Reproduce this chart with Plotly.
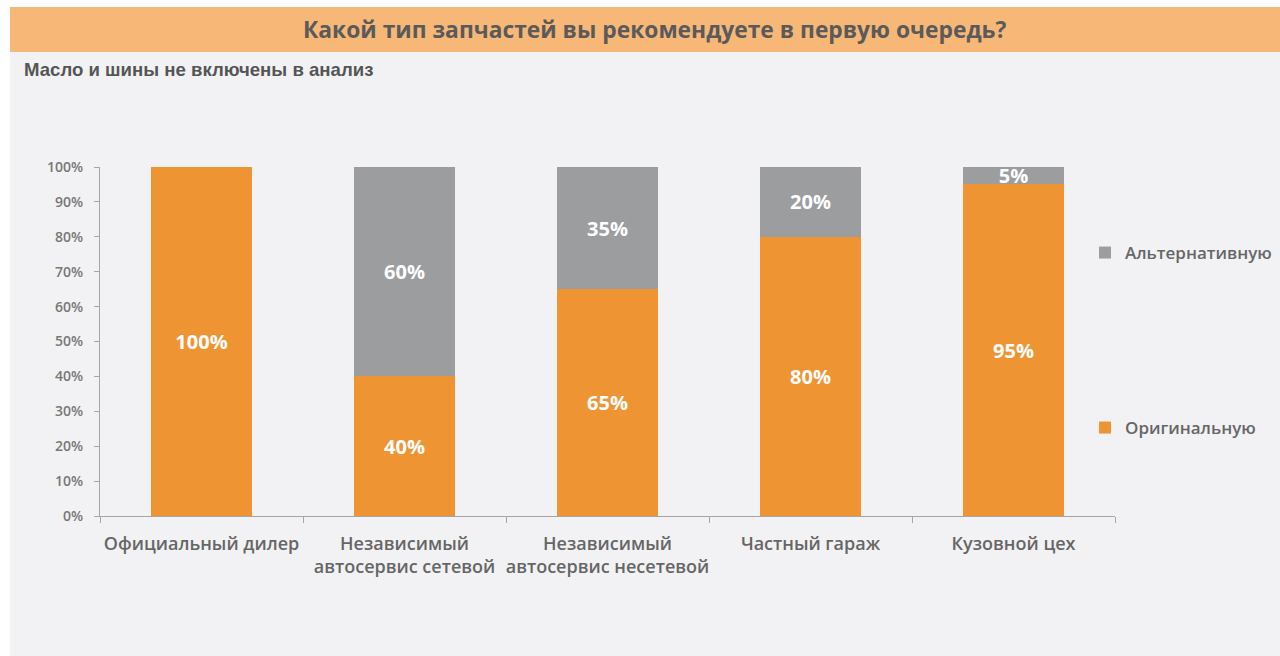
import plotly.graph_objects as go

categories = ["Официальный дилер", "Независимый<br>автосервис сетевой",
              "Независимый<br>автосервис несетевой", "Частный гараж", "Кузовной цех"]
original = [1.00, 0.40, 0.65, 0.80, 0.95]
alternative = [0.00, 0.60, 0.35, 0.20, 0.05]
y_ticks = [0, 0.1, 0.2, 0.3, 0.4, 0.5, 0.6, 0.7, 0.8, 0.9, 1.0]
y_tick_labels = [f"{int(round(v*100))}%" for v in y_ticks]

title_text = "Какой тип запчастей вы рекомендуете в первую очередь?"
subtitle_text = "Масло и шины не включены в анализ"

W, H = 1280, 656
L, R, T, B = 100, 165, 167, 140
pw, ph = W - L - R, H - T - B

def px(x):
    return (x - L) / pw

def py(y):
    return (H - B - y) / ph

ORANGE = "#EF9433"
GREY = "#9C9D9F"
BG = "#F2F2F4"

def lbl(vals):
    return [f"{int(round(v*100))}%" if v > 0 else "" for v in vals]

fig = go.Figure()
fig.add_trace(go.Bar(
    x=categories, y=original, name="Оригинальную", marker_color=ORANGE,
    marker_line_width=0,
    text=lbl(original), textposition="inside", insidetextanchor="middle",
    constraintext="none", textangle=0,
    textfont=dict(family="Open Sans", size=20, color="white", weight="bold"),
    legend="legend2", showlegend=True, hoverinfo="skip",
))
fig.add_trace(go.Bar(
    x=categories, y=alternative, name="Альтернативную", marker_color=GREY,
    marker_line_width=0,
    text=lbl(alternative), textposition="inside", insidetextanchor="middle",
    constraintext="none", textangle=0,
    textfont=dict(family="Open Sans", size=20, color="white", weight="bold"),
    legend="legend", showlegend=True, hoverinfo="skip",
))

shapes = [
    dict(type="rect", xref="paper", yref="paper", x0=px(10), x1=px(1280),
         y0=py(52), y1=py(7), fillcolor="#F7B776", line_width=0, layer="below"),
    dict(type="rect", xref="paper", yref="paper", x0=px(0), x1=px(1280),
         y0=py(7), y1=py(0), fillcolor="white", line_width=0, layer="below"),
    dict(type="rect", xref="paper", yref="paper", x0=px(0), x1=px(10),
         y0=py(656), y1=py(0), fillcolor="white", line_width=0, layer="below"),
]

annotations = [
    dict(text=title_text, xref="paper", yref="paper", x=px(655), y=py(30),
         xanchor="center", yanchor="middle", showarrow=False,
         font=dict(family="Open Sans", size=22.8, color="#5A5A5A", weight="bold")),
    dict(text=subtitle_text, xref="paper", yref="paper", x=px(22), y=py(70),
         xanchor="left", yanchor="middle", showarrow=False,
         font=dict(family="Liberation Sans", size=18.6, color="#555555", weight="bold")),
]

legend_style = dict(xanchor="left", yanchor="middle", bgcolor="rgba(0,0,0,0)",
                    font=dict(size=17, color="#666666", weight=600),
                    itemwidth=30)

fig.update_layout(
    width=W, height=H, barmode="stack", bargap=0.5, showlegend=True,
    margin=dict(l=L, r=R, t=T, b=B, autoexpand=False),
    paper_bgcolor=BG, plot_bgcolor=BG,
    shapes=shapes, annotations=annotations,
    font=dict(family="Open Sans", color="#666666"),
    legend=dict(x=px(1085), y=py(253), **legend_style),
    legend2=dict(x=px(1085), y=py(428), **legend_style),
    xaxis=dict(showgrid=False, showline=True, linecolor="#A6A6A6", linewidth=1,
               ticks="outside", tickson="boundaries", ticklen=6, tickcolor="#A6A6A6",
               tickangle=0,
               tickfont=dict(size=18, color="#666666", weight=600), ticklabelstandoff=11),
    yaxis=dict(range=[0, 1], tickvals=y_ticks, ticktext=y_tick_labels,
               showgrid=False, showline=True, linecolor="#A6A6A6", linewidth=1,
               ticks="outside", ticklen=5, tickcolor="#A6A6A6", zeroline=False,
               tickfont=dict(size=14, color="#777777", weight=600), ticklabelstandoff=8),
)

fig.write_html("out.html")
